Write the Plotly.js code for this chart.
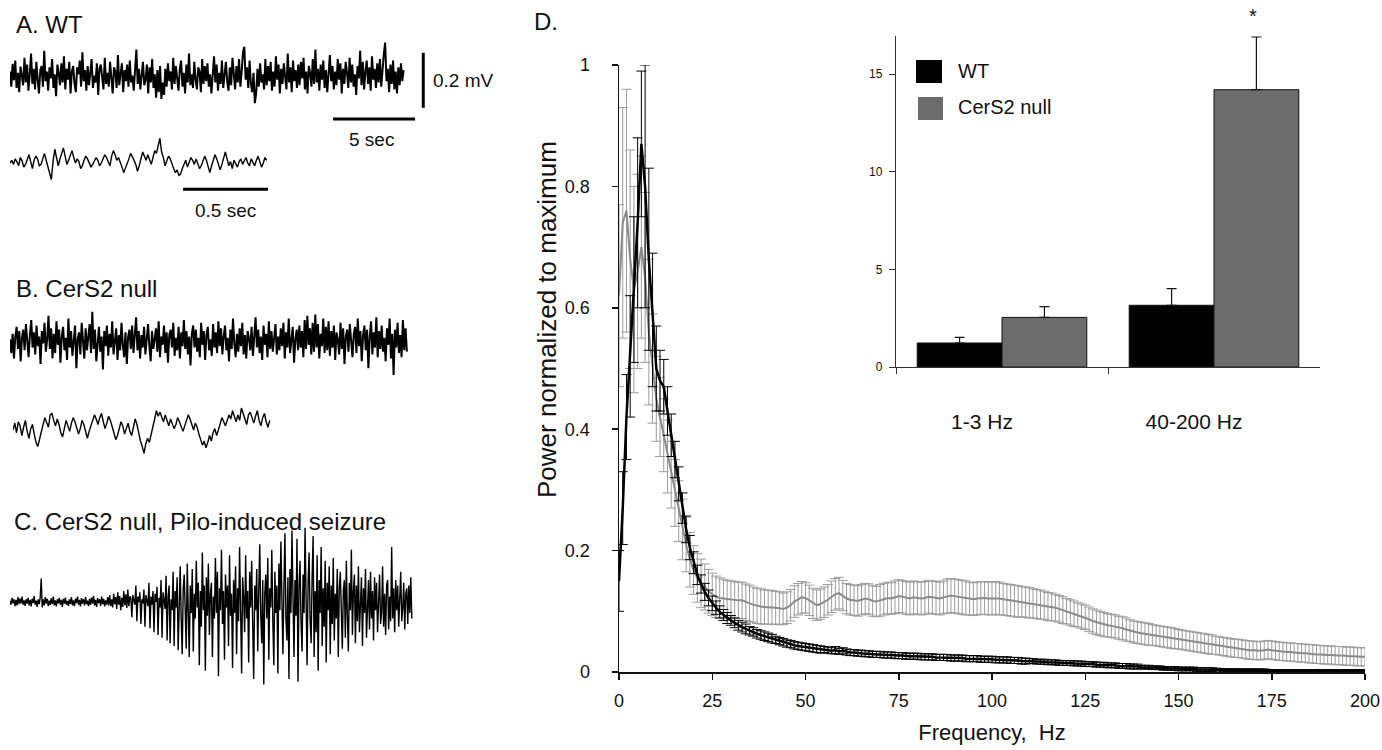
<!DOCTYPE html>
<html>
<head>
<meta charset="utf-8">
<script src="https://cdn.plot.ly/plotly-3.0.1.min.js"></script>
<style>html,body{margin:0;padding:0;background:#fff}#chart{width:1382px;height:750px}</style>
</head>
<body>
<div id="chart"></div>
<script>
// ---------- Panel D: power spectra (1 Hz bins, 0..200 Hz) ----------
const wtPower = [
0.15,0.27,0.42,0.52,0.63,0.74,0.87,0.80,0.68,0.58,
0.50,0.48,0.47,0.43,0.39,0.35,0.31,0.27,0.235,0.205,
0.18,0.16,0.145,0.132,0.122,0.113,0.106,0.099,0.094,0.089,
0.085,0.081,0.077,0.074,0.071,0.068,0.066,0.063,0.061,0.059,
0.057,0.055,0.053,0.051,0.049,0.047,0.046,0.044,0.043,0.042,
0.041,0.040,0.039,0.038,0.037,0.037,0.036,0.035,0.036,0.034,
0.035,0.033,0.032,0.032,0.031,0.031,0.030,0.030,0.029,0.029,
0.029,0.028,0.028,0.028,0.027,0.027,0.027,0.026,0.026,0.026,
0.026,0.025,0.025,0.025,0.025,0.024,0.024,0.024,0.024,0.023,
0.023,0.023,0.023,0.022,0.022,0.022,0.022,0.021,0.021,0.021,
0.021,0.020,0.020,0.020,0.020,0.019,0.019,0.019,0.018,0.018,
0.018,0.018,0.017,0.017,0.017,0.016,0.016,0.016,0.015,0.015,
0.015,0.015,0.014,0.014,0.014,0.013,0.013,0.013,0.012,0.012,
0.012,0.011,0.011,0.011,0.010,0.010,0.010,0.009,0.009,0.009,
0.008,0.008,0.008,0.007,0.007,0.007,0.006,0.006,0.006,0.006,
0.005,0.005,0.005,0.005,0.005,0.004,0.004,0.004,0.004,0.004,
0.004,0.004,0.003,0.003,0.003,0.003,0.003,0.003,0.003,0.003,
0.003,0.003,0.003,0.003,0.002,0.002,0.002,0.002,0.002,0.002,
0.002,0.002,0.002,0.002,0.002,0.002,0.002,0.002,0.002,0.002,
0.002,0.002,0.002,0.002,0.002,0.002,0.002,0.002,0.002,0.002,
0.002];
const wtError = [
0.05,0.06,0.07,0.10,0.12,0.14,0.12,0.20,0.15,0.11,
0.07,0.05,0.045,0.04,0.035,0.03,0.028,0.025,0.022,0.02,
0.018,0.016,0.015,0.014,0.013,0.012,0.011,0.010,0.009,0.009,
0.008,0.008,0.008,0.008,0.008,0.007,0.007,0.007,0.007,0.007,
0.007,0.007,0.006,0.006,0.006,0.006,0.006,0.006,0.006,0.006,
0.006,0.006,0.006,0.006,0.006,0.005,0.005,0.005,0.006,0.005,
0.005,0.005,0.005,0.005,0.005,0.005,0.005,0.005,0.005,0.005,
0.005,0.005,0.005,0.005,0.005,0.005,0.005,0.005,0.005,0.005,
0.005,0.005,0.005,0.005,0.005,0.005,0.005,0.005,0.005,0.005,
0.005,0.005,0.005,0.005,0.005,0.005,0.005,0.005,0.005,0.005,
0.005,0.005,0.005,0.005,0.005,0.005,0.005,0.005,0.005,0.005,
0.004,0.004,0.004,0.004,0.004,0.004,0.004,0.004,0.004,0.004,
0.004,0.004,0.004,0.004,0.004,0.004,0.004,0.004,0.004,0.004,
0.004,0.004,0.004,0.004,0.004,0.004,0.004,0.004,0.004,0.004,
0.003,0.003,0.003,0.003,0.003,0.003,0.003,0.003,0.003,0.003,
0.003,0.003,0.003,0.003,0.003,0.003,0.003,0.003,0.003,0.003,
0.002,0.002,0.002,0.002,0.002,0.002,0.002,0.002,0.002,0.002,
0.002,0.002,0.002,0.002,0.002,0.002,0.002,0.002,0.002,0.002,
0.002,0.002,0.002,0.002,0.002,0.002,0.002,0.002,0.002,0.002,
0.002,0.002,0.002,0.002,0.002,0.002,0.002,0.002,0.002,0.002,
0.002];
const nullPower = [
0.62,0.74,0.76,0.68,0.63,0.66,0.70,0.65,0.56,0.50,
0.45,0.42,0.39,0.355,0.325,0.295,0.265,0.235,0.21,0.185,
0.168,0.155,0.146,0.14,0.133,0.128,0.124,0.122,0.121,0.12,
0.12,0.119,0.118,0.118,0.115,0.113,0.111,0.109,0.108,0.107,
0.107,0.106,0.106,0.105,0.104,0.106,0.110,0.116,0.120,0.123,
0.122,0.118,0.113,0.110,0.112,0.115,0.119,0.124,0.128,0.130,
0.126,0.121,0.119,0.118,0.117,0.119,0.121,0.120,0.117,0.116,
0.118,0.120,0.122,0.121,0.123,0.125,0.124,0.122,0.121,0.123,
0.122,0.121,0.122,0.124,0.123,0.122,0.121,0.123,0.125,0.126,
0.125,0.124,0.123,0.122,0.121,0.120,0.121,0.122,0.122,0.121,
0.121,0.122,0.121,0.120,0.119,0.118,0.117,0.116,0.116,0.115,
0.114,0.113,0.112,0.111,0.110,0.108,0.107,0.106,0.104,0.102,
0.100,0.098,0.096,0.094,0.092,0.090,0.087,0.084,0.082,0.080,
0.078,0.077,0.076,0.075,0.073,0.072,0.070,0.068,0.066,0.065,
0.064,0.063,0.062,0.061,0.060,0.059,0.058,0.057,0.056,0.055,
0.054,0.053,0.052,0.051,0.050,0.049,0.048,0.047,0.046,0.045,
0.044,0.043,0.042,0.041,0.040,0.039,0.039,0.038,0.037,0.036,
0.036,0.035,0.035,0.036,0.037,0.036,0.035,0.034,0.034,0.033,
0.033,0.032,0.032,0.031,0.031,0.030,0.030,0.029,0.029,0.028,
0.028,0.028,0.027,0.027,0.027,0.026,0.026,0.026,0.025,0.025,
0.025];
const nullError = [
0.15,0.19,0.20,0.18,0.17,0.16,0.15,0.14,0.12,0.09,
0.07,0.065,0.06,0.06,0.055,0.055,0.05,0.05,0.045,0.045,
0.04,0.04,0.04,0.038,0.036,0.035,0.034,0.033,0.032,0.031,
0.030,0.030,0.030,0.030,0.030,0.030,0.029,0.029,0.029,0.028,
0.028,0.028,0.027,0.027,0.026,0.026,0.026,0.026,0.026,0.026,
0.025,0.025,0.025,0.025,0.025,0.025,0.025,0.026,0.026,0.026,
0.025,0.025,0.025,0.025,0.025,0.025,0.025,0.025,0.025,0.025,
0.026,0.026,0.026,0.026,0.027,0.027,0.027,0.027,0.027,0.027,
0.027,0.027,0.027,0.027,0.027,0.027,0.027,0.027,0.028,0.028,
0.028,0.028,0.028,0.028,0.027,0.027,0.027,0.027,0.027,0.027,
0.027,0.027,0.027,0.026,0.026,0.026,0.026,0.026,0.025,0.025,
0.025,0.024,0.024,0.024,0.023,0.023,0.023,0.022,0.022,0.022,
0.021,0.021,0.021,0.020,0.020,0.020,0.020,0.020,0.020,0.020,
0.020,0.019,0.019,0.019,0.019,0.019,0.019,0.018,0.018,0.018,
0.018,0.018,0.018,0.017,0.017,0.017,0.017,0.017,0.017,0.017,
0.016,0.016,0.016,0.016,0.016,0.016,0.016,0.016,0.016,0.016,
0.015,0.015,0.015,0.015,0.015,0.015,0.015,0.015,0.015,0.015,
0.015,0.015,0.015,0.015,0.015,0.015,0.015,0.015,0.015,0.015,
0.015,0.015,0.015,0.015,0.015,0.015,0.015,0.015,0.015,0.015,
0.015,0.015,0.015,0.015,0.015,0.015,0.015,0.015,0.015,0.015,
0.015];
const freqTicks = [0,25,50,75,100,125,150,175,200];
const powerTicks = [0,0.2,0.4,0.6,0.8,1];

// ---------- Inset: band power ----------
const bands = ['1-3 Hz','40-200 Hz'];
const wtBand = [1.23, 3.16];
const wtBandErr = [0.29, 0.85];
const nullBand = [2.54, 14.2];
const nullBandErr = [0.55, 2.7];
const insetTicks = [0,5,10,15];

// ---------- EEG traces (microvolts) ----------
const eegA1 = [
20,-35,48,-12,60,-40,15,-55,38,5,-30,70,-20,45,-50,10,85,-25,30,-45,
55,-10,-60,25,40,-35,95,-15,20,-50,35,-5,65,-40,10,-70,45,15,-30,50,
-20,75,-45,30,-10,55,-60,20,40,-25,-55,35,10,60,-35,90,-15,25,-50,40,
-30,15,65,-40,5,-20,50,-65,30,45,-10,-45,70,-25,15,-35,55,-5,-60,35,
20,-40,80,-30,10,50,-55,25,-15,45,-35,60,-20,5,-50,40,100,-25,30,-45,
15,55,-30,-10,45,-60,35,-20,65,-40,10,-75,25,-55,40,-80,-20,-65,30,-35,
50,-15,20,-45,70,-25,40,-5,-50,30,60,-35,15,-60,45,-20,85,-30,10,-40,
55,-10,-45,35,20,-55,65,-25,40,-15,50,-35,10,-60,30,75,-20,45,-50,15,
-25,60,-40,25,55,-15,-50,35,-30,70,10,-45,40,-20,65,-35,20,90,110,-10,
35,-40,60,-25,-55,15,-95,-60,30,-35,50,-20,10,-45,65,-30,40,-15,55,-50,
20,-35,75,-10,45,-60,30,-25,50,5,-45,85,-20,35,-55,60,-15,25,-40,45,
-30,55,-5,70,-45,20,-60,40,15,-35,65,-25,100,-20,30,-50,45,-10,60,-40,
25,-55,35,80,-15,40,-45,20,-30,65,-10,50,-60,30,-25,55,15,-40,70,-20,
45,-35,10,-65,40,-5,95,-30,55,-45,20,60,-25,35,-50,75,-10,30,-40,50,
-20,65,-35,40,85,125,-15,30,-55,45,-25,60,-45,20,-60,35,-30,50,-15,25];
const eegA2 = [
0,10,-5,15,5,-10,20,8,-15,-5,12,30,5,-20,10,25,15,-10,-5,20,
35,10,-15,-40,-60,5,50,20,-10,15,40,55,25,-5,10,30,45,20,0,15,
5,-20,-10,10,25,15,0,-15,-5,5,20,10,-10,0,15,30,20,5,-10,25,
45,30,10,20,5,-15,-35,-20,0,15,35,25,10,-5,-30,-10,20,40,25,10,
30,15,-5,20,45,35,60,90,40,20,-10,5,25,15,-5,-20,-35,-25,-45,-40,
-20,-5,10,-15,5,20,10,-5,15,0,-20,-10,5,25,10,-15,-35,-10,10,30,
15,-5,-25,-5,20,40,15,-10,5,-20,10,0,-15,5,15,-5,10,20,0,-10,
15,5,-10,10,25,5,-15,0,20,10];
const eegB1 = [
10,-40,30,-60,20,55,-25,40,-70,15,45,-30,65,-10,-55,25,80,-20,35,-45,
60,-15,20,-80,40,-5,70,-35,10,95,-25,50,-60,30,-40,75,-10,45,-75,20,
55,-30,15,-65,85,-20,40,-50,25,60,-95,10,35,-45,70,-15,-60,50,-30,20,
65,-40,110,-25,45,-70,15,55,-35,20,-100,40,-15,60,-50,30,-20,75,-45,10,
50,-65,25,-30,70,-10,-55,35,-80,20,45,-25,60,-40,15,90,-30,40,-60,25,
-20,55,-45,30,65,-15,-70,40,-25,10,50,-35,75,-55,20,-10,60,-40,35,-75,
25,45,-20,70,-50,15,-30,55,-60,35,-15,80,-25,40,-45,20,-85,30,60,-20,
45,-35,15,-55,70,-10,40,-65,25,55,-30,10,-50,65,-20,35,-40,75,-15,50,
-45,20,60,-30,15,-70,45,-25,85,-5,-55,30,-35,50,-15,70,-45,25,-60,40,
15,-30,55,-50,35,90,-20,45,-40,20,-65,60,-10,30,-55,75,-25,40,-35,15,
65,-45,20,-30,50,-15,70,-60,35,-20,85,-40,25,55,-75,10,45,-30,60,-20,
40,-55,80,-25,95,-10,50,-45,70,-35,100,-20,65,-60,30,-15,85,-40,55,-30,
75,-50,40,-20,60,-65,35,10,-45,70,-25,50,-80,20,45,-35,65,-10,-55,30,
55,-40,85,-15,40,-70,25,60,-30,45,-95,20,75,-45,35,-20,90,-55,40,-25,
60,-35,15,-70,50,-10,85,-60,30,-120,45,-20,70,-40,25,-55,80,-30,50,-35];
const eegB2 = [
0,25,-10,30,15,-20,10,35,-5,-30,5,20,-15,-45,-60,-30,-10,20,45,30,
10,55,60,35,15,40,20,-10,-25,5,35,15,-5,25,45,30,10,-15,5,35,
20,-10,-30,-5,15,30,55,40,20,45,60,30,5,25,50,35,15,-10,-35,-20,
5,30,15,-15,5,25,-5,-20,10,40,20,-15,-40,-60,-85,-50,-30,-45,-20,10,
40,70,50,65,45,30,55,35,15,40,25,5,20,45,30,10,-5,15,35,55,
40,20,0,25,10,-15,-35,-55,-40,-65,-45,-20,-40,-10,5,-20,0,25,45,30,
15,35,55,40,70,50,30,55,35,80,60,40,20,55,65,45,25,50,70,35,
15,45,60,30,10,35];
const eegC = [
5,-10,15,-5,10,-15,8,-12,18,-8,12,-5,20,-10,6,-14,10,-6,15,-12,
8,-16,12,-4,22,-10,5,-18,10,-8,16,85,-20,10,-12,18,-6,12,-15,5,
-10,14,-8,20,-12,6,-16,10,-5,15,-10,8,-18,12,-6,16,-10,4,-14,10,
-8,18,-12,6,-15,12,-4,20,-10,8,-16,14,-6,10,-12,18,-8,5,-15,12,
-10,16,-6,22,-12,8,-18,14,-4,10,-14,20,-8,12,-16,6,-10,18,-12,25,
-15,10,-20,30,-8,18,-25,35,-10,22,-30,15,-18,40,-12,28,-22,45,-15,20,
15,-55,25,5,-10,60,-70,20,0,35,-80,10,-5,45,-90,25,5,-15,70,-95,
20,-10,40,-110,30,0,55,-120,15,-20,80,-130,35,5,-25,95,-140,20,60,-150,
10,-30,110,-160,40,-20,90,-175,25,130,-60,-190,45,100,-30,-170,140,15,-200,60,
-40,120,-180,30,-60,150,-20,70,-230,40,-90,180,-30,60,-250,90,-50,140,-120,30,
70,-200,20,-60,160,-40,110,-270,50,-30,190,-80,40,-210,100,-20,60,-160,170,-50,
30,-240,80,-40,130,-190,50,-70,200,-30,-260,90,20,-110,170,-60,40,-220,110,-20,
150,-80,-280,60,-30,120,-180,40,210,-50,-150,80,-300,30,100,-60,160,-210,50,-20,
190,-70,-230,110,-40,60,-260,140,-30,220,-90,-190,50,250,-60,-140,90,-280,120,-40,
260,-100,-200,80,-50,230,-290,60,150,-70,-180,100,-40,270,-120,-230,70,180,-60,-150,
90,240,-200,40,-110,170,-250,80,-40,200,-160,50,-90,150,-220,70,-30,130,-190,60,
-80,160,-140,30,-60,120,-200,50,110,-90,-170,40,80,-130,150,-50,-180,70,-30,190,
-120,40,100,-150,60,-70,130,-110,30,90,-160,50,-40,120,-130,20,80,-100,110,-60,
40,-140,90,-30,70,-110,50,100,-80,-40,130,-90,30,-120,60,80,-100,20,-70,200,
-60,50,-110,80,-30,60,-90,40,110,-70,-20,70,-100,30,50,-80,60,-40,90,-60];

// recording durations (s) and scale bars
const durA1 = 24.0, durA2 = 1.51, durB1 = 24.2, durB2 = 1.51, durC = 24.5;
const barA1_mV = [-112, 88];     // 0.2 mV vertical bar (µV)
const barA1_sec = [19.7, 24.7];  // 5 sec bar
const barA2_sec = [1.018, 1.518];// 0.5 sec bar

// ---------- helpers ----------
const W = 1382, H = 750;
const xd = (a, b) => [a / W, b / W];
const yd = (top, bottom) => [1 - bottom / H, 1 - top / H];
const tgrid = (vals, dur) => vals.map((_, i) => i * dur / (vals.length - 1));
const hz = wtPower.map((_, i) => i);
const FONT = 'Liberation Sans, Arial, Helvetica, sans-serif';
const INK = '#111';

const traces = [];
// Panel D
traces.push({type:'scatter', mode:'lines', x:hz, y:nullPower, xaxis:'x', yaxis:'y',
  line:{color:'#8a8a8a', width:2},
  error_y:{type:'data', array:nullError, visible:true, color:'#9c9c9c', thickness:1, width:5},
  hoverinfo:'skip', name:'CerS2 null'});
traces.push({type:'scatter', mode:'lines', x:hz, y:wtPower, xaxis:'x', yaxis:'y',
  line:{color:'#000', width:2.5},
  error_y:{type:'data', array:wtError, visible:true, color:'#000', thickness:1, width:5},
  hoverinfo:'skip', name:'WT'});
// Inset bars
traces.push({type:'bar', x:bands, y:wtBand, xaxis:'x2', yaxis:'y2', name:'WT',
  marker:{color:'#000', line:{color:INK, width:1}},
  error_y:{type:'data', array:wtBandErr, arrayminus:[0,0], symmetric:false, color:INK, thickness:1.2, width:5}});
traces.push({type:'bar', x:bands, y:nullBand, xaxis:'x2', yaxis:'y2', name:'CerS2 null',
  marker:{color:'#6c6c6c', line:{color:INK, width:1}},
  error_y:{type:'data', array:nullBandErr, arrayminus:[0,0], symmetric:false, color:INK, thickness:1.2, width:5}});
// EEG
const eeg = (vals, dur, ax, w) => ({type:'scatter', mode:'lines', x:tgrid(vals, dur), y:vals,
  xaxis:'x'+ax, yaxis:'y'+ax, line:{color:'#000', width:w||1}, hoverinfo:'skip'});
traces.push(eeg(eegA1, durA1, 3, 2));
traces.push(eeg(eegA2, durA2, 4, 1.4));
traces.push(eeg(eegB1, durB1, 5, 2));
traces.push(eeg(eegB2, durB2, 6, 1.4));
traces.push(eeg(eegC, durC, 7, 1.4));
// scale bars
traces.push({type:'scatter', mode:'lines', x:[25.2,25.2], y:barA1_mV, xaxis:'x3', yaxis:'y3', line:{color:'#000', width:3}, hoverinfo:'skip'});
traces.push({type:'scatter', mode:'lines', x:barA1_sec, y:[-153,-153], xaxis:'x3', yaxis:'y3', line:{color:'#000', width:3}, hoverinfo:'skip'});
traces.push({type:'scatter', mode:'lines', x:barA2_sec, y:[-95,-95], xaxis:'x4', yaxis:'y4', line:{color:'#000', width:3}, hoverinfo:'skip'});

const hidden = (dom, range, anchor) => ({domain:dom, range:range, visible:false, fixedrange:true, anchor:anchor});
const txt = (text, px, py, size, anchor, extra) => Object.assign({text:text, xref:'paper', yref:'paper', x:px / W, y:1 - py / H,
  xanchor:anchor || 'left', yanchor:'middle', showarrow:false, font:{size:size, family:FONT, color:INK}}, extra || {});

const layout = {
  width: W, height: H, margin:{l:0, r:0, t:0, b:0},
  paper_bgcolor:'#fff', plot_bgcolor:'rgba(0,0,0,0)',
  showlegend:false, font:{family:FONT, color:INK},
  barmode:'group', bargap:0.2, bargroupgap:0,
  xaxis:{domain:xd(619,1365), range:[0,200], anchor:'y', tickvals:freqTicks,
    ticks:'outside', ticklen:6, tickwidth:1.5, tickcolor:INK,
    showline:true, linewidth:1.5, linecolor:INK, showgrid:false, zeroline:false,
    tickfont:{size:18, family:FONT, color:INK}, ticklabelstandoff:6,
    title:{text:'Frequency,  Hz', font:{size:22, family:FONT, color:INK}, standoff:14}},
  yaxis:{domain:yd(65,672), range:[0,1], anchor:'x', tickvals:powerTicks,
    ticks:'outside', ticklen:6, tickwidth:1.5, tickcolor:INK,
    showline:true, linewidth:1.5, linecolor:INK, showgrid:false, zeroline:false,
    tickfont:{size:18, family:FONT, color:INK}, ticklabelstandoff:18},
  xaxis2:{domain:xd(896,1320), anchor:'y2', type:'category', range:[-0.5,1.5],
    tickson:'boundaries', ticks:'outside', ticklen:6, tickwidth:1, tickcolor:'#333',
    showline:true, linewidth:1.2, linecolor:'#333', showgrid:false, zeroline:false,
    tickfont:{size:21, family:FONT, color:INK}, ticklabelstandoff:36, ticklabelshift:-20},
  yaxis2:{domain:yd(36,367), anchor:'x2', range:[0,16.95], tickvals:insetTicks,
    ticks:'outside', ticklen:6, tickwidth:1, tickcolor:'#333',
    showline:true, linewidth:1.2, linecolor:'#333', showgrid:false, zeroline:false,
    tickfont:{size:12, family:FONT, color:INK}, ticklabelstandoff:4},
  xaxis3: hidden(xd(10,440), [0, 26.22], 'y3'),
  yaxis3: hidden(yd(30,130), [-192.7, 170.9], 'x3'),
  xaxis4: hidden(xd(10,290), [0, 1.647], 'y4'),
  yaxis4: hidden(yd(130,200), [-134.5, 120], 'x4'),
  xaxis5: hidden(xd(10,410), [0, 24.39], 'y5'),
  yaxis5: hidden(yd(300,385), [-156, 152.7], 'x5'),
  xaxis6: hidden(xd(13,283), [0, 1.588], 'y6'),
  yaxis6: hidden(yd(395,470), [-145.5, 127.3], 'x6'),
  xaxis7: hidden(xd(10,420), [0, 25], 'y7'),
  yaxis7: hidden(yd(520,700), [-356, 298], 'x7'),
  shapes:[
    {type:'rect', xref:'paper', yref:'paper', x0:916/W, x1:942/W, y0:1-83/H, y1:1-60/H, fillcolor:'#000', line:{width:0}},
    {type:'rect', xref:'paper', yref:'paper', x0:918/W, x1:943/W, y0:1-120/H, y1:1-97/H, fillcolor:'#6c6c6c', line:{width:0}}
  ],
  annotations:[
    txt('A. WT', 14, 24, 24),
    txt('B. CerS2 null', 14, 288, 24),
    txt('C. CerS2 null, Pilo-induced seizure', 12, 521, 24),
    txt('D.', 532, 21, 24),
    txt('0.2 mV', 431, 80, 19),
    txt('5 sec', 372, 140, 19, 'center'),
    txt('0.5 sec', 225, 210, 19, 'center'),
    txt('WT', 956, 71, 20),
    txt('CerS2 null', 956, 107, 20),
    txt('*', 1253, 16, 20, 'center'),
    txt('Power normalized to maximum', 547, 320, 26, 'center', {textangle:-90})
  ]
};

Plotly.newPlot('chart', traces, layout, {staticPlot:true, displayModeBar:false});
</script>
</body>
</html>
